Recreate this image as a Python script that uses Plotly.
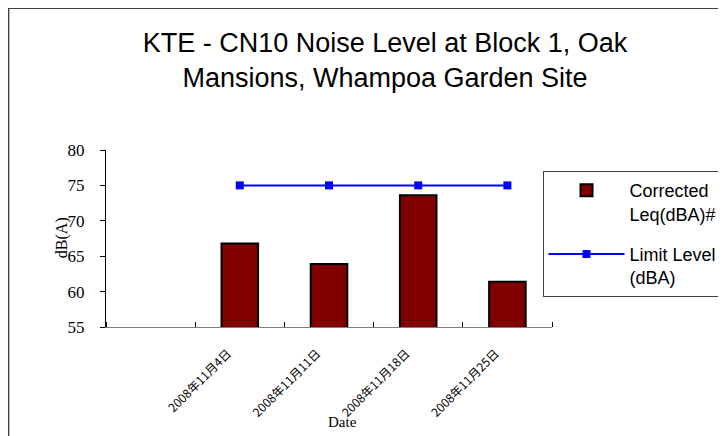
import plotly.graph_objects as go

# Data
dates = ["2008年11月4日", "2008年11月11日", "2008年11月18日", "2008年11月25日"]
corrected_leq = [66.8, 63.9, 73.6, 61.4]
limit_level = [75, 75, 75, 75]
positions = [1, 2, 3, 4]          # category slots (slot 0 is empty)
tick_positions = [0, 1, 2, 3, 4]
tick_labels = [""] + dates

W, H = 726, 436
L, T, PW, PH = 98, 142, 447.5, 177

fig = go.Figure()
fig.add_trace(go.Bar(
    x=positions, y=corrected_leq, name="Corrected<br>Leq(dBA)#", legendgroup="a",
    width=0.41, marker=dict(color="#800000", line=dict(color="black", width=2)),
))
fig.add_trace(go.Scatter(
    x=positions, y=limit_level, name="Limit Level<br>(dBA)", mode="lines+markers", legendgroup="b",
    line=dict(color="#0000FF", width=2),
    marker=dict(symbol="square", size=8, color="#0000FF"),
))

fig.update_layout(
    width=W, height=H,
    margin=dict(l=L, r=W - L - PW, t=T, b=H - T - PH),
    paper_bgcolor="white", plot_bgcolor="white",
    showlegend=True,
    title=dict(
        text="KTE - CN10 Noise Level at Block 1, Oak<br>Mansions, Whampoa Garden Site",
        x=377 / W, xref="container", xanchor="center",
        y=1 - 44 / H, yref="container", yanchor="top",
        font=dict(family="Liberation Sans, Arial", size=27, color="black"),
    ),
    legend=dict(
        x=(535 - L) / PW, y=(T + PH - 163) / PH, xanchor="left", yanchor="top",
        bgcolor="white", bordercolor="#404040", borderwidth=1,
        font=dict(family="Liberation Sans, Arial", size=18, color="black"),
        itemwidth=76, tracegroupgap=14, valign="top",
    ),
    xaxis=dict(
        range=[-0.5, 4.5], tickmode="array", tickvals=tick_positions, ticktext=tick_labels,
        tickangle=-45, ticks="", showgrid=False, zeroline=False,
        showline=True, linecolor="#808080", linewidth=1,
        ticklabelstandoff=14, ticklabelshift=-12,
        tickfont=dict(family="Noto Sans CJK TC", size=12, color="black"),
        minor=dict(tick0=0.5, dtick=1, ticks="inside", ticklen=5, tickcolor="black", showgrid=False),
    ),
    yaxis=dict(
        range=[55, 80], dtick=5, ticks="outside", ticklen=5, tickcolor="black",
        showgrid=False, zeroline=False, showline=True, linecolor="black", linewidth=1,
        ticklabelstandoff=12,
        tickfont=dict(family="Liberation Serif, Times New Roman", size=17, color="black"),
    ),
    annotations=[
        dict(
            text="Date", xref="paper", yref="paper", x=(335 - L) / PW, y=(T + PH - 414) / PH,
            xanchor="center", yanchor="middle", showarrow=False,
            font=dict(family="Liberation Serif, Times New Roman", size=15, color="black"),
        ),
        dict(
            text="dB(A)", xref="paper", yref="paper", x=(54 - L) / PW, y=(T + PH - 230) / PH,
            xanchor="center", yanchor="middle", showarrow=False, textangle=-90,
            font=dict(family="Liberation Serif, Times New Roman", size=16, color="black"),
        ),
    ],
    shapes=[dict(
        type="rect", xref="paper", yref="paper",
        x0=(0 - L) / PW, y0=-3, x1=3, y1=(T + PH - 0) / PH,
        line=dict(color="#404040", width=2), fillcolor="rgba(0,0,0,0)", layer="below",
    )],
)

fig.write_html("out.html")
